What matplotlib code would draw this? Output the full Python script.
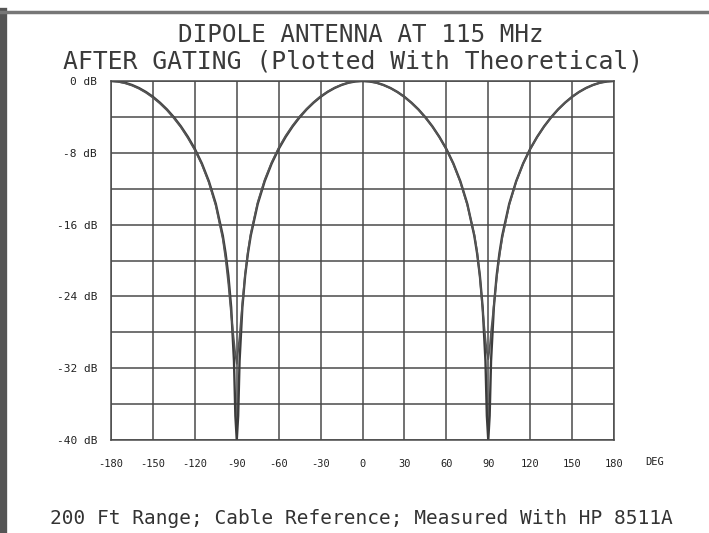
import matplotlib.pyplot as plt
from matplotlib.lines import Line2D

# angle grid (deg) shared by both traces
angles = [-180, -175, -170, -165, -160, -155, -150, -145, -140, -135, -130, -125,
          -120, -115, -110, -105, -100, -98, -96, -94, -92, -91, -90, -89, -88,
          -86, -84, -82, -80, -75, -70, -65, -60, -55, -50, -45, -40, -35, -30,
          -25, -20, -15, -10, -5, 0, 5, 10, 15, 20, 25, 30, 35, 40, 45, 50, 55,
          60, 65, 70, 75, 80, 82, 84, 86, 88, 89, 90, 91, 92, 94, 96, 98, 100,
          105, 110, 115, 120, 125, 130, 135, 140, 145, 150, 155, 160, 165, 170,
          175, 180]

theory_db = [0.0, -0.05, -0.19, -0.44, -0.78, -1.22, -1.76, -2.41, -3.16, -4.04,
             -5.05, -6.22, -7.57, -9.18, -11.16, -13.69, -17.23, -19.19, -21.69,
             -25.22, -31.2, -37.3, -40.0, -37.3, -31.2, -25.22, -21.69, -19.19,
             -17.23, -13.69, -11.16, -9.18, -7.57, -6.22, -5.05, -4.04, -3.16,
             -2.41, -1.76, -1.22, -0.78, -0.44, -0.19, -0.05, 0.0, -0.05, -0.19,
             -0.44, -0.78, -1.22, -1.76, -2.41, -3.16, -4.04, -5.05, -6.22, -7.57,
             -9.18, -11.16, -13.69, -17.23, -19.19, -21.69, -25.22, -31.2, -37.3,
             -40.0, -37.3, -31.2, -25.22, -21.69, -19.19, -17.23, -13.69, -11.16,
             -9.18, -7.57, -6.22, -5.05, -4.04, -3.16, -2.41, -1.76, -1.22, -0.78,
             -0.44, -0.19, -0.05, 0.0]

measured_db = [0.0, -0.08, -0.25, -0.5, -0.85, -1.3, -1.85, -2.5, -3.25, -4.15,
               -5.15, -6.35, -7.7, -9.3, -11.3, -13.9, -17.6, -19.8, -22.6, -26.0,
               -29.0, -30.5, -31.5, -30.0, -28.5, -24.8, -21.5, -19.0, -17.0,
               -13.5, -11.0, -9.05, -7.45, -6.1, -4.95, -3.95, -3.1, -2.35, -1.7,
               -1.18, -0.75, -0.42, -0.18, -0.04, 0.0, -0.05, -0.2, -0.46, -0.8,
               -1.25, -1.8, -2.45, -3.2, -4.1, -5.1, -6.28, -7.62, -9.25, -11.25,
               -13.8, -17.1, -19.0, -21.8, -25.5, -28.8, -30.2, -31.0, -29.8, -28.0,
               -25.0, -22.0, -19.5, -17.5, -13.8, -11.2, -9.2, -7.6, -6.25, -5.08,
               -4.06, -3.18, -2.42, -1.77, -1.22, -0.78, -0.44, -0.19, -0.05, 0.0]

x_ticks = [-180, -150, -120, -90, -60, -30, 0, 30, 60, 90, 120, 150, 180]
y_ticks = [-40, -36, -32, -28, -24, -20, -16, -12, -8, -4, 0]

mono = 'DejaVu Sans Mono'
ink = '#3c3c3c'

fig = plt.figure(figsize=(7.09, 5.33), dpi=100)
ax = fig.add_axes([0.1566, 0.1745, 0.7094, 0.6735])

ax.plot(angles, theory_db, color=ink, lw=1.7)
ax.plot(angles, measured_db, color='#555555', lw=1.3)

ax.set_xlim(-180, 180)
ax.set_ylim(-40, 0)
ax.set_xticks(x_ticks)
ax.set_xticklabels([str(v) for v in x_ticks])
ax.set_yticks(y_ticks)
ax.set_yticklabels([f'{v} dB' if v % 8 == 0 else '' for v in y_ticks])
ax.grid(True, color='#4a4a4a', lw=1.1)
ax.tick_params(length=0, labelsize=7.5, labelcolor='#222222')
ax.tick_params(axis='x', pad=14)
ax.tick_params(axis='y', pad=10, labelsize=8)
for lab in ax.get_xticklabels() + ax.get_yticklabels():
    lab.set_family(mono)
for s in ax.spines.values():
    s.set_color('#4a4a4a')
    s.set_linewidth(1.1)

fig.text(655 / 709, 1 - 462 / 533, 'DEG', family=mono, fontsize=7.5,
         color='#222222', ha='center', va='center')

fig.text(361 / 709, 1 - 35 / 533, 'DIPOLE ANTENNA AT 115 MHz', family=mono,
         fontsize=17.5, color='#3a3a3a', ha='center', va='center')
fig.text(353 / 709, 1 - 61 / 533, 'AFTER GATING (Plotted With Theoretical)',
         family=mono, fontsize=17.8, color='#3a3a3a', ha='center', va='center')
fig.text(50 / 709, 1 - 519 / 533,
         '200 Ft Range; Cable Reference; Measured With HP 8511A',
         family=mono, fontsize=14, color='#333333', ha='left', va='center')

# scanned page edges
fig.add_artist(Line2D([0.004, 0.004], [0, 0.978], transform=fig.transFigure,
                      color='#555555', lw=6))
fig.add_artist(Line2D([0, 1], [0.978, 0.978], transform=fig.transFigure,
                      color='#777777', lw=2.5))

fig.savefig('out.png', dpi=100)
